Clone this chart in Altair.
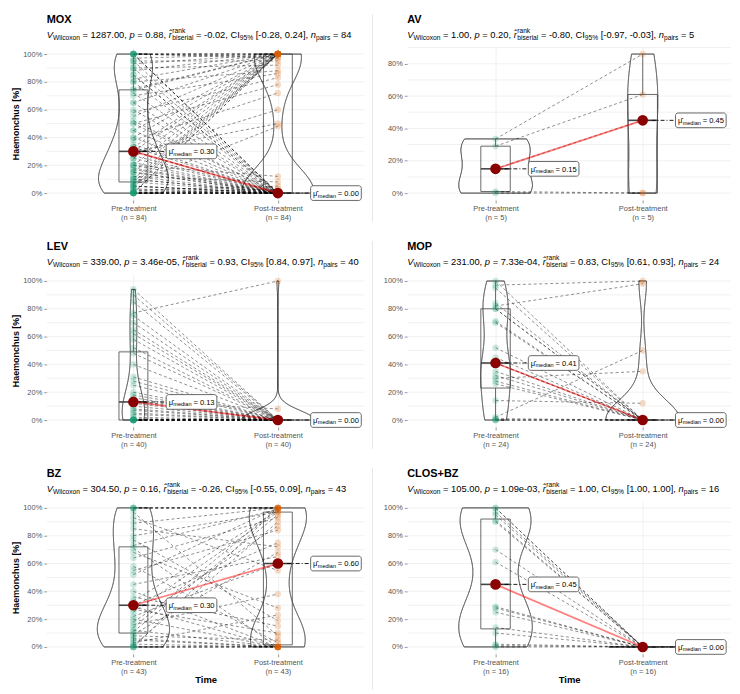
import altair as alt
import numpy as np
import pandas as pd

# ---------------- data ----------------
PANELS = ["MOX", "AV", "LEV", "MOP", "BZ", "CLOS+BZ"]
STAT_V = ["1287.00", "1.00", "339.00", "231.00", "304.50", "105.00"]
STAT_P = ["0.88", "0.20", "3.46e-05", "7.33e-04", "0.16", "1.09e-03"]
STAT_R = ["-0.02", "-0.80", "0.93", "0.83", "-0.26", "1.00"]
STAT_CI = ["[-0.28, 0.24]", "[-0.97, -0.03]", "[0.84, 0.97]", "[0.61, 0.93]", "[-0.55, 0.09]", "[1.00, 1.00]"]

MOX_PRE = [0, 0, 0, 0, 0, 0, 0, 0, 0, 0,
           0.01, 0.02, 0.02, 0.03, 0.04, 0.05, 0.05, 0.05, 0.06, 0.07, 0.08, 0.08,
           0.10, 0.10, 0.10, 0.12, 0.12, 0.15, 0.15, 0.15, 0.17, 0.18, 0.20, 0.20, 0.20, 0.22, 0.25, 0.25, 0.27, 0.28, 0.30, 0.30,
           0.30, 0.30, 0.33, 0.33, 0.35, 0.38, 0.40, 0.40, 0.45, 0.45, 0.50, 0.50, 0.52, 0.55, 0.58, 0.60, 0.65, 0.65, 0.70, 0.72, 0.74,
           0.75, 0.80, 0.80, 0.82, 0.85, 0.85, 0.88, 0.90, 0.90, 0.93, 0.95, 0.95, 0.97, 1, 1, 1, 1, 1, 1, 1, 1]
MOX_POST = [0, 0, 0, 1, 0, 0, 0.03, 0, 0, 1, 0, 0, 0.05, 0, 1, 0, 0, 0, 1, 0.48, 0, 1,
            0, 1, 0, 0, 0.08, 0, 1, 0, 0, 0, 1, 0.12, 0, 0, 1, 0, 0, 0.60, 1, 0,
            0, 0.50, 1, 0, 0, 0.72, 1, 0, 0, 1, 0.78, 0, 0, 1, 0.83, 0, 0, 1, 0.86, 0, 1,
            1, 0, 0.88, 1, 0, 0, 1, 0.92, 0, 1, 0, 0.95, 1, 0, 0, 1, 0.97, 0, 1, 0.98, 1]

AV_PRE = [0, 0.01, 0.15, 0.29, 0.335]
AV_POST = [0, 0, 0.45, 0.61, 0.86]

LEV_PRE = [0, 0, 0, 0, 0, 0, 0, 0, 0, 0, 0,
           0.01, 0.02, 0.04, 0.05, 0.07, 0.08, 0.10, 0.12, 0.13, 0.13,
           0.14, 0.16, 0.18, 0.20, 0.25, 0.28, 0.31, 0.40, 0.48, 0.52,
           0.58, 0.62, 0.65, 0.70, 0.75, 0.77, 0.85, 0.90, 0.94]
LEV_POST = [0, 0, 0, 0, 0, 0, 0, 0, 0, 0, 0,
            0, 0, 0, 0, 0, 0, 0, 0, 0, 0.08,
            0, 0, 0, 0, 0, 0, 0, 0, 0, 0,
            0, 0, 0, 0, 0, 1.0, 0, 0, 0]

MOP_PRE = [0, 0, 0, 0.01, 0.02, 0.14, 0.26, 0.28, 0.30, 0.32, 0.35, 0.41,
           0.41, 0.45, 0.52, 0.70, 0.71, 0.80, 0.80, 0.82, 0.84, 0.95, 0.97, 1.0]
MOP_POST = [0, 0, 0, 0, 0.50, 0.12, 0, 0, 0.35, 0, 0, 0,
            0, 0, 0, 0, 0, 0, 0, 0.98, 0, 0, 1.0, 0]

BZ_PRE = [0, 0, 0, 0, 0.01, 0.02, 0.03, 0.05, 0.06, 0.08, 0.09,
          0.11, 0.12, 0.14, 0.16, 0.18, 0.20, 0.22, 0.25, 0.27, 0.29, 0.30,
          0.33, 0.36, 0.40, 0.45, 0.52, 0.55, 0.58, 0.64, 0.68, 0.71, 0.73,
          0.77, 0.80, 0.85, 0.89, 0.93, 0.97, 1, 1, 1, 1]
BZ_POST = [0, 0, 1, 0, 0.90, 0, 0.23, 0, 0, 0.05, 0.68,
           0.95, 0, 1, 0.38, 0.87, 0, 0.60, 0.97, 0.10, 0, 0.75,
           0.98, 0.15, 0, 0.65, 1, 0.84, 0.03, 0.93, 0.28, 0, 0.99,
           0.19, 0.97, 0.72, 1, 0.55, 0.08, 1, 1, 1, 1]

CLOS_PRE = [0, 0.01, 0.02, 0.10, 0.14, 0.25, 0.28, 0.29, 0.61, 0.70, 0.90, 0.91, 0.95, 0.97, 1.0, 1.0]
CLOS_POST = [0, 0, 0, 0, 0, 0, 0, 0, 0, 0, 0, 0, 0, 0, 0, 0]

Y_TICKS_FULL = [0, 0.2, 0.4, 0.6, 0.8, 1.0]
Y_TICKS_AV = [0, 0.2, 0.4, 0.6, 0.8]
GRID_FULL = [0, 0.1, 0.2, 0.3, 0.4, 0.5, 0.6, 0.7, 0.8, 0.9, 1.0]
GRID_AV = [0, 0.1, 0.2, 0.3, 0.4, 0.5, 0.6, 0.7, 0.8, 0.9]
X_LABELS = ["Pre-treatment", "Post-treatment"]

# ---------------- styling ----------------
GREEN, ORANGE = "#1B9E77", "#D95F02"
FONT = "Liberation Sans"
ONE = pd.DataFrame({"k": [0]})

AW = {' ': 278, '!': 278, '%': 889, '(': 333, ')': 333, ',': 278, '-': 333, '.': 278,
      '=': 584, '[': 278, ']': 278, '+': 584, '\u03bc': 576, '\u0302': 0}
for c in "0123456789":
    AW[c] = 556
AW.update(dict(a=556, b=556, c=500, d=556, e=556, f=278, g=556, h=556, i=222, j=222, k=500,
               l=222, m=833, n=556, o=556, p=556, q=556, r=333, s=500, t=278, u=556, v=500,
               w=722, x=500, y=500, z=500, A=667, B=667, C=722, D=722, E=667, F=611, G=778,
               H=722, I=278, J=500, K=667, L=556, M=833, N=722, O=778, P=667, Q=778, R=722,
               S=667, T=611, U=722, V=667, W=944, X=667, Y=667, Z=611))


def tw(s, size):
    return sum(AW.get(ch, 556) for ch in s) / 1000.0 * size


def nrd0(x):
    x = np.asarray(x, float)
    hi = x.std(ddof=1)
    q75, q25 = np.percentile(x, [75, 25])
    lo = min(hi, (q75 - q25) / 1.34)
    if lo == 0:
        lo = hi
    if lo == 0:
        lo = abs(x[0])
    if lo == 0:
        lo = 1.0
    return 0.9 * lo * len(x) ** -0.2


def text_layer(t, x, y, size, italic=False, bold=False, color="black"):
    return alt.Chart(ONE).mark_text(
        align="left", baseline="alphabetic", fontSize=size, font=FONT,
        fontStyle="italic" if italic else "normal",
        fontWeight="bold" if bold else "normal", color=color
    ).encode(x=alt.value(x), y=alt.value(y), text=alt.value(t))


def subtitle_layers(i, n, y0):
    M, S = 9.4, 6.7
    segs = [("V", M, 0, True), ("Wilcoxon", S, 2.5, False),
            (f" = {STAT_V[i]}, ", M, 0, False), ("p", M, 0, True),
            (f" = {STAT_P[i]}, ", M, 0, False), ("r\u0302", M, 0, True),
            ("STACK", None, None, None),
            (f" = {STAT_R[i]}, CI", M, 0, False), ("95%", S, 2.5, False),
            (f" {STAT_CI[i]}, ", M, 0, False), ("n", M, 0, True),
            ("pairs", S, 2.5, False), (f" = {n}", M, 0, False)]
    layers = []
    x = 0.0
    for t, size, dy, it in segs:
        if t == "STACK":
            layers.append(text_layer("rank", x + 0.5, y0 - 4.4, S))
            layers.append(text_layer("biserial", x + 0.5, y0 + 2.5, S))
            x += max(tw("rank", S), tw("biserial", S)) + 0.5
            continue
        lead = len(t) - len(t.lstrip(" "))
        xs = x + tw(" " * lead, size)
        layers.append(text_layer(t.strip(), xs, y0 + dy, size, italic=it))
        x += tw(t, size)
    return layers


def panel(i, pre, post, width, height, left, bottom):
    name = PANELS[i]
    n = len(pre)
    df = pd.DataFrame({"pair": list(range(n)) * 2, "time": [1] * n + [2] * n,
                       "value": list(pre) + list(post)})
    vmax = max(max(pre), max(post))
    vmin = min(min(pre), min(post))
    rng = vmax - vmin
    ylo, yhi = vmin - 0.05 * rng, vmax + 0.05 * rng
    pxx = width / 2.2
    pxy = height / (yhi - ylo)
    yticks = Y_TICKS_FULL if vmax > 0.9 else Y_TICKS_AV
    grid = GRID_FULL if vmax > 0.9 else GRID_AV

    xscale = alt.Scale(domain=[0.4, 2.6], nice=False, zero=False)
    yscale = alt.Scale(domain=[ylo, yhi], nice=False, zero=False)
    xaxis = alt.Axis(values=[1, 2],
                     labelExpr=f"datum.value == 1 ? ['{X_LABELS[0]}', '(n = {n})'] : ['{X_LABELS[1]}', '(n = {n})']",
                     title="Time" if bottom else None, grid=True, gridColor="#EBEBEB",
                     gridWidth=0.7, domain=False, tickSize=3, tickColor="#999",
                     labelFontSize=7.5, labelColor="#555", labelLineHeight=8.5,
                     labelPadding=2, titleFontSize=9.5, titleFontWeight="bold",
                     titlePadding=0, titleColor="black", labelFont=FONT, titleFont=FONT)
    yaxis = alt.Axis(values=yticks, format=".0%",
                     title="Haemonchus [%]" if left else None, grid=False, domain=False,
                     tickSize=3, tickColor="#999", labelFontSize=7.5, labelColor="#555",
                     labelPadding=2, titleFontSize=9, titleFontWeight="bold",
                     titlePadding=2, titleColor="black", labelFont=FONT, titleFont=FONT)

    def X(f):
        return alt.X(f"{f}:Q", scale=xscale, axis=xaxis)

    def Y(f):
        return alt.Y(f"{f}:Q", scale=yscale, axis=yaxis)

    base = alt.Chart(df)

    gridl = alt.Chart(pd.DataFrame({"g": grid})).mark_rule(
        color="#EBEBEB", strokeWidth=0.7).encode(
        y=Y("g"), x=alt.value(0), x2=alt.value(width))

    # violin: per-group bandwidth (R's nrd0) via rescaling, trimmed to each group's range,
    # widths scaled by the largest density of the panel (geom_violin scale = "area")
    bw1, bw2 = nrd0(pre), nrd0(post)
    viol = base.transform_joinaggregate(
        gmin="min(value)", gmax="max(value)", groupby=["time"]
    ).transform_calculate(
        bw=f"datum.time == 1 ? {bw1} : {bw2}"
    ).transform_calculate(
        u="datum.value / datum.bw",
        umin="datum.gmin / datum.bw - 1e-7",
        umax="datum.gmax / datum.bw + 1e-7"
    ).transform_density(
        "u", as_=["u", "dens"], groupby=["time", "bw", "umin", "umax"], bandwidth=1, steps=3000
    ).transform_filter(
        "datum.u >= datum.umin && datum.u <= datum.umax"
    ).transform_calculate(
        v="datum.u * datum.bw", d="datum.dens / datum.bw"
    ).transform_joinaggregate(dmax="max(d)").transform_calculate(
        lo="datum.time - 0.25 * datum.d / datum.dmax",
        hi="datum.time + 0.25 * datum.d / datum.dmax"
    ).mark_area(orient="horizontal", fillOpacity=0, stroke="black", strokeWidth=0.8).encode(
        y=Y("v"), x=X("lo"), x2="hi", detail="time:N")

    stats = base.transform_joinaggregate(
        q1="q1(value)", q3="q3(value)", med="median(value)", groupby=["time"]
    ).transform_filter(
        "datum.value >= datum.q1 - 1.5 * (datum.q3 - datum.q1) && datum.value <= datum.q3 + 1.5 * (datum.q3 - datum.q1)"
    ).transform_aggregate(
        wlo="min(value)", whi="max(value)", groupby=["time", "q1", "q3", "med"]
    ).transform_calculate(xl="datum.time - 0.1", xr="datum.time + 0.1")
    box = stats.mark_rect(fillOpacity=0, stroke="#444", strokeWidth=0.8).encode(
        x=X("xl"), x2="xr", y=Y("q1"), y2="q3")
    medl = stats.mark_rule(color="#444", strokeWidth=1.6).encode(
        x=X("xl"), x2="xr", y=Y("med"))
    whi = stats.mark_rule(color="#444", strokeWidth=0.8).encode(x=X("time"), y=Y("q3"), y2="whi")
    wlo = stats.mark_rule(color="#444", strokeWidth=0.8).encode(x=X("time"), y=Y("wlo"), y2="q1")

    paths = base.mark_line(strokeDash=[3, 2.5], color="black", opacity=0.55, strokeWidth=0.8).encode(
        x=X("time"), y=Y("value"), detail="pair:N")
    pts = base.mark_circle(size=42, opacity=0.22).encode(
        x=X("time"), y=Y("value"),
        color=alt.Color("time:N", scale=alt.Scale(domain=[1, 2], range=[GREEN, ORANGE]), legend=None))

    med = base.transform_aggregate(med="median(value)", groupby=["time"])
    red = med.mark_line(color="red", opacity=0.5, strokeWidth=1.8).encode(x=X("time"), y=Y("med"))
    off = 33 / pxx
    boxw = 51 / pxx
    h = 7.4 / pxy
    lab = med.transform_calculate(
        xe=f"datum.time + {off}", bx0=f"datum.time + {off}", bx1=f"datum.time + {off + boxw}",
        by0=f"datum.med - {h}", by1=f"datum.med + {h}",
        lab="'= ' + format(datum.med, '.2f')")
    seg = lab.mark_rule(strokeDash=[4, 2, 1, 2], color="black", strokeWidth=0.9).encode(
        x=X("time"), x2="xe", y=Y("med"))
    dots = med.mark_circle(size=115, color="#8B0000", opacity=1).encode(x=X("time"), y=Y("med"))
    lbox = lab.mark_rect(fill="white", stroke="#444", strokeWidth=0.8, cornerRadius=2.5).encode(
        x=X("bx0"), x2="bx1", y=Y("by0"), y2="by1")
    t_mu = lab.mark_text(align="left", baseline="alphabetic", fontSize=7.6, dx=2.5, dy=2.8,
                         font=FONT, color="black").encode(
        x=X("bx0"), y=Y("med"), text=alt.value("\u03bc\u0302"))
    t_sub = lab.mark_text(align="left", baseline="alphabetic", fontSize=5.6, dx=7.2, dy=4.5,
                          font=FONT, color="black").encode(
        x=X("bx0"), y=Y("med"), text=alt.value("median"))
    t_val = lab.mark_text(align="left", baseline="alphabetic", fontSize=7.6, dx=27.4, dy=2.8,
                          font=FONT, color="black").encode(
        x=X("bx0"), y=Y("med"), text="lab:N")

    layers = [gridl, viol, box, medl, whi, wlo, paths, pts, red, seg, dots, lbox, t_mu, t_sub, t_val]
    layers.append(text_layer(name, 0, -24.5, 11, bold=True))
    layers += subtitle_layers(i, n, -9.5)
    if not left:
        layers.append(alt.Chart(ONE).mark_rule(color="#E6E6E6", strokeWidth=1).encode(
            x=alt.value(-35), y=alt.value(-33), y2=alt.value(height + (36 if bottom else 22))))
    return alt.layer(*layers).properties(width=width, height=height)


W_L, W_R, H = 320, 326, 154
p = [panel(0, MOX_PRE, MOX_POST, W_L, H, True, False),
     panel(1, AV_PRE, AV_POST, W_R, H, False, False),
     panel(2, LEV_PRE, LEV_POST, W_L, H, True, False),
     panel(3, MOP_PRE, MOP_POST, W_R, H, False, False),
     panel(4, BZ_PRE, BZ_POST, W_L, H, True, True),
     panel(5, CLOS_PRE, CLOS_POST, W_R, H, False, True)]

rows = [alt.hconcat(p[0], p[1], spacing=6),
        alt.hconcat(p[2], p[3], spacing=6),
        alt.hconcat(p[4], p[5], spacing=6)]
chart = alt.vconcat(*rows, spacing=17.5).properties(
    padding={"left": 3, "top": 3, "right": 0, "bottom": 0}, background="white"
).configure(font=FONT).configure_view(stroke=None)

chart.save("out.html", embed_options={"renderer": "svg", "actions": False})
